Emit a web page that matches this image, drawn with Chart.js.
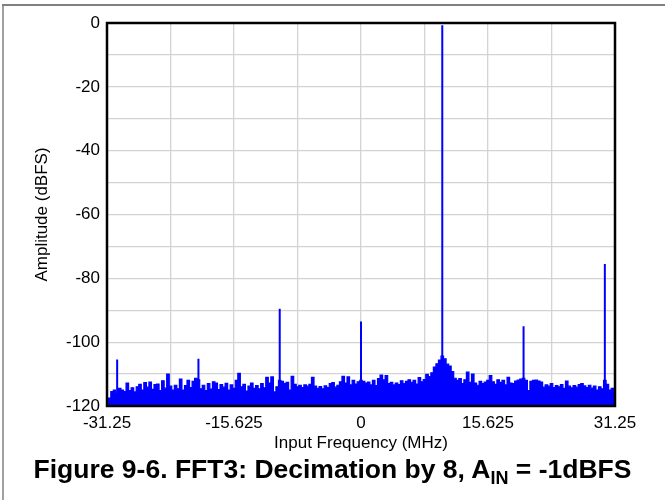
<!DOCTYPE html>
<html>
<head>
<meta charset="utf-8">
<script src="https://cdn.jsdelivr.net/npm/chart.js@4.4.1/dist/chart.umd.min.js"></script>
<style>
  html, body { margin: 0; padding: 0; background: #fff; }
  #wrap { position: relative; width: 665px; height: 500px; overflow: hidden; }
  #fft { position: absolute; left: 0; top: 0; }
  #caption {
    position: absolute; left: 0; top: 454px; width: 665px;
    text-align: center; white-space: nowrap;
    font-family: "Liberation Sans", Arial, sans-serif;
    font-weight: bold; font-size: 26.5px; color: #000;
  }
  #caption sub { font-size: 18px; vertical-align: -6px; line-height: 0; }
</style>
</head>
<body>
<div id="wrap">
  <canvas id="fft" width="665" height="500"></canvas>
  <div id="caption">Figure 9-6. FFT3: Decimation by 8, A<sub>IN</sub> = -1dBFS</div>
</div>
<script>
// noise floor, one value every 0.3125 MHz from -31.25 to 31.25 MHz (dBFS)
const freqStart = -31.25;
const freqStep = 0.3125;
const noiseDb = [
  -119.5, -117.5, -115.5, -115.0, -116.0, -114.5, -115.0, -115.5, -112.8, -115.2,
  -114.3, -115.6, -114.0, -113.2, -115.0, -112.7, -114.1, -112.5, -114.8, -113.3,
  -113.1, -115.2, -112.1, -114.4, -110.0, -113.8, -115.0, -113.5, -114.6, -111.6,
  -115.0, -113.6, -112.0, -114.2, -112.3, -111.3, -111.8, -114.6, -113.5, -115.2,
  -113.0, -114.7, -112.4, -112.8, -114.9, -113.3, -114.1, -112.9, -115.0, -113.4,
  -114.5, -112.0, -109.8, -114.0, -113.2, -115.3, -113.8, -112.8, -114.5, -113.6,
  -114.6, -113.0, -114.3, -111.0, -112.8, -110.9, -115.6, -114.0, -112.0, -112.3,
  -113.0, -112.6, -115.0, -110.7, -113.2, -114.0, -113.5, -114.2, -113.4, -113.8,
  -113.2, -111.0, -113.8, -114.5, -113.9, -114.6, -113.7, -114.2, -113.0, -112.7,
  -114.1, -113.5, -112.4, -110.7, -112.8, -110.9, -113.4, -112.0, -113.1, -112.4,
  -112.0, -112.3, -112.8, -112.5, -113.4, -112.0, -113.6, -111.4, -110.3, -111.8,
  -110.5, -113.0, -112.6, -113.4, -112.8, -113.3, -112.1, -113.0, -112.3, -111.8,
  -112.6, -112.0, -113.1, -111.1, -112.4, -111.7, -110.1, -110.8, -109.6, -107.8,
  -106.8, -105.6, -104.4, -105.2, -106.9, -107.5, -109.2, -111.3, -112.0, -111.4,
  -113.0, -111.8, -109.4, -112.6, -110.0, -112.8, -113.5, -112.3, -113.0, -112.5,
  -112.0, -110.5, -112.4, -113.2, -111.8, -112.6, -112.0, -113.4, -111.0, -112.8,
  -113.0, -112.2, -111.9, -111.6, -111.3, -112.0, -115.2, -112.3, -112.0, -111.9,
  -112.2, -112.5, -114.1, -113.4, -113.8, -113.0, -114.2, -113.6, -114.0, -113.3,
  -114.5, -112.2, -113.8, -114.3, -113.6, -114.1, -113.3, -113.0, -113.7, -114.2,
  -113.5, -114.4, -113.8, -115.0, -114.0, -114.6, -112.0, -113.2, -115.0, -114.5,
  -115.5
];

// tone and spurs
const spurFreq = [-30, -20, -10, 0, 10, 20, 30];
const spurDb = [-105.4, -105.2, -89.5, -93.5, -0.7, -95.0, -75.5];

// axes
const yMin = -120;
const yMax = 0;
const xGridValues = [-31.25, -23.4375, -15.625, -7.8125, 0, 7.8125, 15.625, 23.4375, 31.25];
const xLabelValues = [-31.25, -15.625, 0, 15.625, 31.25];

const blue = '#0000ff';
const fontFamily = '"Liberation Sans", Arial, sans-serif';

const noisePoints = noiseDb.map(function(v, i) {
    return { x: freqStart + i * freqStep, y: v };
});

let spurPoints = [];
spurFreq.forEach(function(f, i) {
    spurPoints.push({ x: f, y: yMin });
    spurPoints.push({ x: f, y: spurDb[i] });
    spurPoints.push({ x: f, y: null });
});

// grey frame of the figure box
const framePlugin = {
    id: 'frame',
    beforeDraw(chart) {
        const ctx = chart.ctx;
        ctx.save();
        ctx.strokeStyle = '#808080';
        ctx.lineWidth = 2;
        ctx.beginPath();
        ctx.moveTo(2, 5);
        ctx.lineTo(665, 5);
        ctx.stroke();
        ctx.lineWidth = 1.5;
        ctx.beginPath();
        ctx.moveTo(3, 5);
        ctx.lineTo(3, 500);
        ctx.stroke();
        ctx.restore();
    }
};

// black box round the plot area
const boxPlugin = {
    id: 'box',
    afterDraw(chart) {
        const a = chart.chartArea;
        const ctx = chart.ctx;
        ctx.save();
        ctx.strokeStyle = '#000';
        ctx.lineWidth = 2.5;
        ctx.strokeRect(a.left, a.top, a.right - a.left, a.bottom - a.top);
        ctx.restore();
    }
};

new Chart(document.getElementById('fft').getContext('2d'), {
    type: 'line',
    data: {
        datasets: [
            {
                data: spurPoints,
                borderColor: blue,
                borderWidth: 2,
                pointRadius: 0,
                spanGaps: false,
                fill: false
            },
            {
                data: noisePoints,
                borderColor: blue,
                backgroundColor: blue,
                borderWidth: 1.2,
                pointRadius: 0,
                stepped: 'middle',
                fill: 'start'
            }
        ]
    },
    options: {
        responsive: false,
        animation: false,
        layout: { padding: { top: 23, right: 50, bottom: 44, left: 0 } },
        plugins: {
            legend: { display: false },
            tooltip: { enabled: false }
        },
        scales: {
            x: {
                type: 'linear',
                min: xGridValues[0],
                max: xGridValues[xGridValues.length - 1],
                afterBuildTicks: function(scale) {
                    scale.ticks = xGridValues.map(function(v) { return { value: v }; });
                },
                afterFit: function(scale) { scale.height = 50; },
                grid: { color: '#d3d3d3', lineWidth: 1.3, drawTicks: false },
                border: { display: false },
                ticks: {
                    padding: 7,
                    maxRotation: 0,
                    autoSkip: false,
                    color: '#000',
                    font: { family: fontFamily, size: 17 },
                    callback: function(v) {
                        return xLabelValues.includes(v) ? String(v) : '';
                    }
                },
                title: {
                    display: true,
                    text: 'Input Frequency (MHz)',
                    color: '#000',
                    padding: { top: 0, bottom: 2 },
                    font: { family: fontFamily, size: 17 }
                }
            },
            y: {
                min: yMin,
                max: yMax,
                afterFit: function(scale) { scale.width = 107; },
                grid: { color: '#d3d3d3', lineWidth: 1.3, drawTicks: false },
                border: { display: false },
                ticks: {
                    stepSize: 10,
                    padding: 7,
                    color: '#000',
                    font: { family: fontFamily, size: 17 },
                    callback: function(v) {
                        return v % 20 === 0 ? String(v) : '';
                    }
                },
                title: {
                    display: true,
                    text: 'Amplitude (dBFS)',
                    color: '#000',
                    padding: { top: 32, bottom: 0 },
                    font: { family: fontFamily, size: 17 }
                }
            }
        }
    },
    plugins: [framePlugin, boxPlugin]
});
</script>
</body>
</html>
